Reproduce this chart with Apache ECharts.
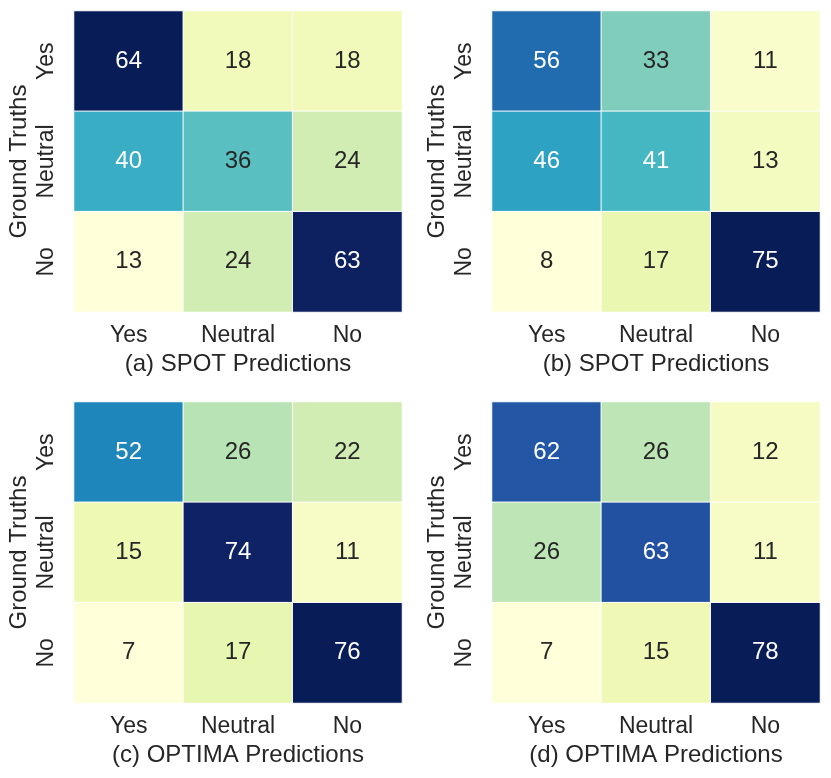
<!DOCTYPE html>
<html><head><meta charset="utf-8">
<script src="https://cdn.jsdelivr.net/npm/echarts@6/dist/echarts.min.js"></script>
<style>html,body{margin:0;padding:0;background:#fff}#c{width:831px;height:778px}</style>
</head><body><div id="c"></div>
<script>
const predLabels = ['Yes', 'Neutral', 'No'];
const truthLabels = ['Yes', 'Neutral', 'No'];
const titles = ['(a) SPOT Predictions', '(b) SPOT Predictions', '(c) OPTIMA Predictions', '(d) OPTIMA Predictions'];
const matA = [[64, 18, 18], [40, 36, 24], [13, 24, 63]];
const matB = [[56, 33, 11], [46, 41, 13], [8, 17, 75]];
const matC = [[52, 26, 22], [15, 74, 11], [7, 17, 76]];
const matD = [[62, 26, 12], [26, 63, 11], [7, 15, 78]];
const mats = [matA, matB, matC, matD];
const ylgnbu = ['#ffffd9', '#edf8b1', '#c7e9b4', '#7fcdbb', '#41b6c4', '#1d91c0', '#225ea8', '#253494', '#081d58'];

function hex(h){return [1,3,5].map(i=>parseInt(h.substr(i,2),16)/255);}
function cmap(t){
  t=Math.max(0,Math.min(1,t));
  const p=t*(ylgnbu.length-1), i=Math.min(Math.floor(p),ylgnbu.length-2), f=p-i;
  const a=hex(ylgnbu[i]), b=hex(ylgnbu[i+1]);
  return a.map((v,k)=>v+(b[k]-v)*f);
}
function lum(rgb){
  const c=rgb.map(v=>v<=0.03928?v/12.92:Math.pow((v+0.055)/1.055,2.4));
  return 0.2126*c[0]+0.7152*c[1]+0.0722*c[2];
}
const FONT = '"Liberation Sans", Arial, sans-serif';
const TXT = '#262626';
const pos = [[74, 11], [492, 11], [74, 402], [492, 402]];
const W = 328, H = 301;

const grid=[], xAxis=[], yAxis=[], series=[], visualMap=[];
mats.forEach((m, k) => {
  const flat = m.flat(), mn = Math.min(...flat), mx = Math.max(...flat);
  grid.push({left: pos[k][0], top: pos[k][1], width: W, height: H});
  xAxis.push({type:'category', gridIndex:k, data: predLabels,
    axisLine:{show:false}, axisTick:{show:false}, splitLine:{show:false},
    axisLabel:{color:TXT, fontSize:23, fontFamily:FONT, margin:12},
    name: titles[k], nameLocation:'middle', nameGap:40,
    nameTextStyle:{color:TXT, fontSize:24, fontFamily:FONT}});
  yAxis.push({type:'category', gridIndex:k, data: truthLabels, inverse:true,
    axisLine:{show:false}, axisTick:{show:false}, splitLine:{show:false},
    axisLabel:{color:TXT, fontSize:23, fontFamily:FONT, rotate:90, margin:16},
    name:'Ground Truths', nameLocation:'middle', nameGap:43, nameRotate:90,
    nameTextStyle:{color:TXT, fontSize:24, fontFamily:FONT}});
  const data=[];
  m.forEach((row, r) => row.forEach((v, c) => {
    const l = lum(cmap((v-mn)/(mx-mn)));
    data.push({value:[c, r, v], label:{color: l < 0.408 ? '#ffffff' : TXT}});
  }));
  visualMap.push({type:'continuous', show:false, seriesIndex:k, dimension:2,
    min:mn, max:mx, inRange:{color: ylgnbu}});
  series.push({type:'heatmap', xAxisIndex:k, yAxisIndex:k, data,
    itemStyle:{borderColor:'#ffffff', borderWidth:1},
    label:{show:true, fontSize:24, fontFamily:FONT, formatter:p=>p.value[2]},
    emphasis:{disabled:true}});
});

const chart = echarts.init(document.getElementById('c'), null, {renderer:'canvas'});
chart.setOption({animation:false, backgroundColor:'#fff', grid, xAxis, yAxis, visualMap, series});
</script></body></html>
